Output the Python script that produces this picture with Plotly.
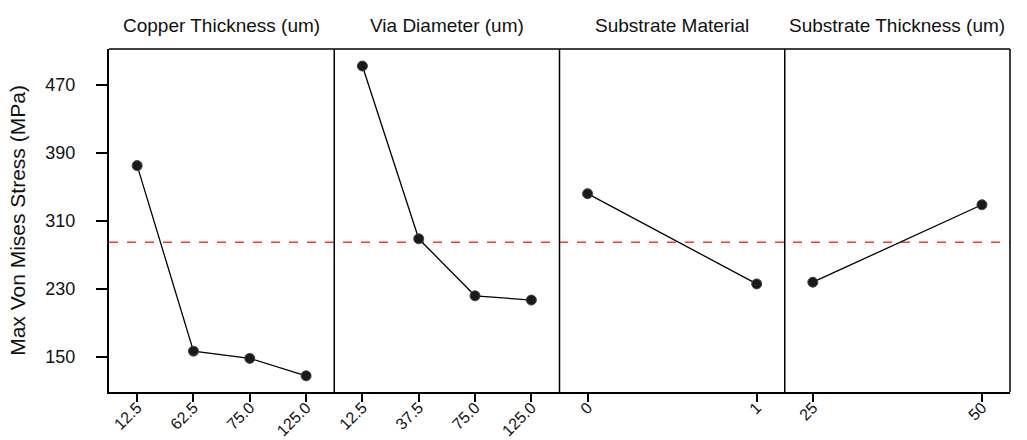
import plotly.graph_objects as go
from plotly.subplots import make_subplots

# Main-effects data: mean of Max Von Mises Stress (MPa) at each factor level
copper_levels = ["12.5", "62.5", "75.0", "125.0"]
copper_stress = [375, 157, 148.5, 128]

via_levels = ["12.5", "37.5", "75.0", "125.0"]
via_stress = [492, 289, 222, 217]

material_levels = ["0", "1"]
material_stress = [342, 236]

substrate_levels = ["25", "50"]
substrate_stress = [238, 329]

panel_titles = ["Copper Thickness (um)", "Via Diameter (um)",
                "Substrate Material", "Substrate Thickness (um)"]
grand_mean = 285

y_ticks = [150, 230, 310, 390, 470]
y_range = [109, 512]

panels = [
    (copper_levels, copper_stress),
    (via_levels, via_stress),
    (material_levels, material_stress),
    (substrate_levels, substrate_stress),
]

fig = make_subplots(rows=1, cols=4, shared_yaxes=True, horizontal_spacing=0)

FONT = "Liberation Sans, Arial, sans-serif"
INK = "#111111"

for i, (levels, values) in enumerate(panels, start=1):
    fig.add_trace(
        go.Scatter(
            x=levels, y=values, mode="lines+markers",
            line=dict(color="black", width=1.3),
            marker=dict(symbol="circle", size=10, color="#1a1a1a",
                        line=dict(color="#444444", width=1)),
            showlegend=False,
        ),
        row=1, col=i,
    )
    n = len(levels)
    pad = 0.5 if n == 4 else 0.166
    fig.update_xaxes(
        type="category", range=[-pad, n - 1 + pad], automargin=False,
        showline=True, linecolor="black", linewidth=2,
        ticks="outside", ticklen=8, tickwidth=1.5, tickcolor="black",
        tickangle=-45, ticklabelstandoff=-10,
        tickfont=dict(family=FONT, size=16, color=INK),
        showgrid=False, zeroline=False,
        row=1, col=i,
    )
    fig.update_yaxes(
        range=y_range, showline=False, showgrid=False, zeroline=False,
        automargin=False, row=1, col=i,
    )

fig.update_yaxes(
    showline=True, linecolor="black", linewidth=2,
    tickvals=y_ticks, ticks="outside", ticklen=11, tickwidth=1.5,
    tickcolor="black", tickfont=dict(family=FONT, size=18, color=INK),
    ticklabelstandoff=17,
    title=dict(text="Max Von Mises Stress (MPa)",
               font=dict(family=FONT, size=21, color=INK), standoff=14),
    row=1, col=1,
)
for c in range(2, 5):
    fig.update_yaxes(showticklabels=False, ticks="", row=1, col=c)

# Top border and panel dividers
fig.add_shape(type="line", xref="paper", yref="paper", x0=0, x1=1, y0=1, y1=1,
              line=dict(color="black", width=1.5))
for xb in [0.25, 0.5, 0.75, 1.0]:
    fig.add_shape(type="line", xref="paper", yref="paper", x0=xb, x1=xb, y0=0, y1=1,
                  line=dict(color="black", width=1.5))

# Grand mean reference line across every panel
fig.add_shape(
    type="line", xref="paper", x0=0, x1=1, yref="y", y0=grand_mean, y1=grand_mean,
    line=dict(color="#ff3333", width=1.6, dash="dash"), layer="below",
)

# Factor names above each panel
for i, title in enumerate(panel_titles):
    fig.add_annotation(
        text=title, xref="paper", yref="paper", x=(i + 0.5) / 4, y=1,
        xanchor="center", yanchor="bottom", yshift=11, showarrow=False,
        font=dict(family=FONT, size=19, color=INK),
    )

fig.update_layout(
    width=1027, height=440,
    margin=dict(l=109, r=17, t=49, b=48),
    paper_bgcolor="white", plot_bgcolor="white",
)

fig.write_html("out.html")
